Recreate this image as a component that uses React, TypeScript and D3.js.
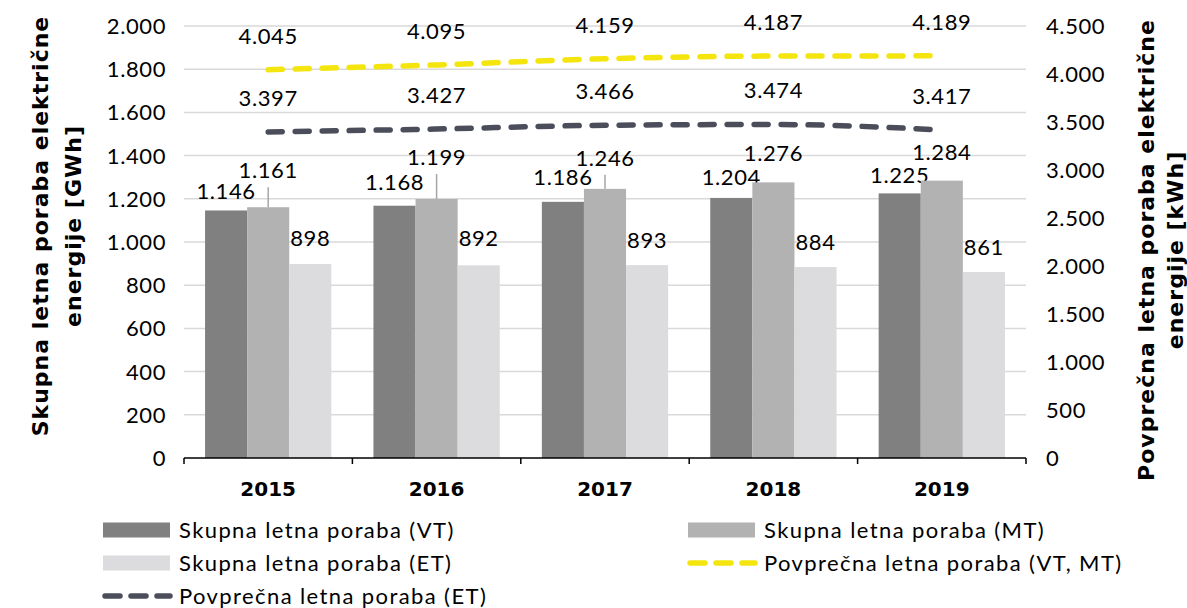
import { useEffect, useRef } from "react";
import * as d3 from "d3";

const years = ["2015", "2016", "2017", "2018", "2019"];
const totalVT = [1146, 1168, 1186, 1204, 1225];
const totalMT = [1161, 1199, 1246, 1276, 1284];
const totalET = [898, 892, 893, 884, 861];
const avgVTMT = [4045, 4095, 4159, 4187, 4189];
const avgET = [3397, 3427, 3466, 3474, 3417];
const leftTicks = [0, 200, 400, 600, 800, 1000, 1200, 1400, 1600, 1800, 2000];
const rightTicks = [0, 500, 1000, 1500, 2000, 2500, 3000, 3500, 4000, 4500];

// how far (px) the hand-placed bar labels sit above their bar
const liftVT = [19, 24, 25, 21, 18];
const liftMT = [37, 42, 31, 29, 29];
const liftET = [26, 27, 25, 25, 25];

const W = 1187;
const H = 608;
const FONT = "Lato, 'Open Sans', sans-serif";
const BOLD_FONT = "'DejaVu Sans', Lato, sans-serif";
const barColors = { VT: "#808080", MT: "#b2b2b2", ET: "#dcdcde" };
const lineColors = { VTMT: "#f5e50f", ET: "#4b4d5a" };

const fmt = d3.formatLocale({
  decimal: ",",
  thousands: ".",
  grouping: [3],
  currency: ["", " €"],
}).format(",d");

const App = () => {
  const ref = useRef<SVGSVGElement>(null);

  useEffect(() => {
    if (!ref.current) return;
    const svg = d3.select(ref.current);
    svg.selectAll("*").remove();

    const left = 184;
    const right = 1026;
    const top = 26;
    const bottom = 458;

    const x = d3.scaleBand().domain(years).range([left, right]);
    const sub = d3
      .scaleBand()
      .domain(["VT", "MT", "ET"])
      .range([0, x.bandwidth()])
      .paddingOuter(0.5);
    const yL = d3.scaleLinear().domain([0, 2000]).range([bottom, top]);
    const yR = d3.scaleLinear().domain([0, 4500]).range([bottom, top]);

    const numText = (sel: any) =>
      sel
        .attr("dy", "0.36em")
        .style("font-family", FONT)
        .style("font-size", "22px")
        .style("letter-spacing", "0.6px")
        .attr("fill", "#000");

    // gridlines
    svg
      .append("g")
      .selectAll("line")
      .data(leftTicks.filter((t) => t > 0))
      .enter()
      .append("line")
      .attr("x1", left)
      .attr("x2", right)
      .attr("y1", (d) => yL(d))
      .attr("y2", (d) => yL(d))
      .attr("stroke", "#d9d9d9")
      .attr("stroke-width", 1.5);

    // left tick labels
    svg
      .append("g")
      .selectAll("text")
      .data(leftTicks)
      .enter()
      .append("text")
      .attr("x", 166)
      .attr("y", (d) => yL(d))
      .attr("text-anchor", "end")
      .call(numText)
      .text((d) => fmt(d));

    // right tick labels
    svg
      .append("g")
      .selectAll("text")
      .data(rightTicks)
      .enter()
      .append("text")
      .attr("x", 1046)
      .attr("y", (d) => yR(d))
      .attr("text-anchor", "start")
      .call(numText)
      .text((d) => fmt(d));

    // bars
    const series = [
      { key: "VT", values: totalVT, lift: liftVT },
      { key: "MT", values: totalMT, lift: liftMT },
      { key: "ET", values: totalET, lift: liftET },
    ];
    series.forEach((s) => {
      const g = svg.append("g");
      const cx = (i: number) =>
        (x(years[i]) as number) + (sub(s.key) as number) + sub.bandwidth() / 2;
      g.selectAll("rect")
        .data(s.values)
        .enter()
        .append("rect")
        .attr("x", (d, i) => (x(years[i]) as number) + (sub(s.key) as number))
        .attr("y", (d) => yL(d))
        .attr("width", sub.bandwidth())
        .attr("height", (d) => bottom - yL(d))
        .attr("fill", barColors[s.key as keyof typeof barColors]);

      // leader lines for labels pulled far from the bar
      g.selectAll("line")
        .data(s.values.map((v, i) => ({ v, i })).filter((d) => s.lift[d.i] > 30))
        .enter()
        .append("line")
        .attr("x1", (d) => cx(d.i))
        .attr("x2", (d) => cx(d.i))
        .attr("y1", (d) => yL(d.v) - s.lift[d.i] + 17)
        .attr("y2", (d) => yL(d.v))
        .attr("stroke", "#a6a6a6")
        .attr("stroke-width", 1.5);

      g.selectAll("text")
        .data(s.values)
        .enter()
        .append("text")
        .attr("x", (d, i) => cx(i))
        .attr("y", (d, i) => yL(d) - s.lift[i])
        .attr("text-anchor", "middle")
        .call(numText)
        .text((d) => fmt(d));
    });

    // x axis
    svg
      .append("line")
      .attr("x1", left)
      .attr("x2", right)
      .attr("y1", bottom)
      .attr("y2", bottom)
      .attr("stroke", "#000")
      .attr("stroke-width", 1.5);
    const bounds = years.map((y) => x(y) as number).concat([right]);
    svg
      .append("g")
      .selectAll("line")
      .data(bounds)
      .enter()
      .append("line")
      .attr("x1", (d) => d)
      .attr("x2", (d) => d)
      .attr("y1", bottom)
      .attr("y2", bottom + 6)
      .attr("stroke", "#000")
      .attr("stroke-width", 1.5);
    svg
      .append("g")
      .selectAll("text")
      .data(years)
      .enter()
      .append("text")
      .attr("x", (d) => (x(d) as number) + x.bandwidth() / 2)
      .attr("y", 489)
      .attr("dy", "0.36em")
      .attr("text-anchor", "middle")
      .style("font-family", BOLD_FONT)
      .style("font-size", "20px")
      .style("font-weight", "bold")
      .text((d) => d);

    // lines (right axis)
    const lineGen = d3
      .line<number>()
      .x((d, i) => (x(years[i]) as number) + x.bandwidth() / 2)
      .y((d) => yR(d))
      .curve(d3.curveMonotoneX);
    const lines = [
      { values: avgVTMT, color: lineColors.VTMT },
      { values: avgET, color: lineColors.ET },
    ];
    lines.forEach((l) => {
      svg
        .append("path")
        .attr("d", lineGen(l.values))
        .attr("fill", "none")
        .attr("stroke", l.color)
        .attr("stroke-width", 5.5)
        .attr("stroke-linecap", "round")
        .attr("stroke-dasharray", "14 13");
      svg
        .append("g")
        .selectAll("text")
        .data(l.values)
        .enter()
        .append("text")
        .attr("x", (d, i) => (x(years[i]) as number) + x.bandwidth() / 2)
        .attr("y", (d) => yR(d) - 34)
        .attr("text-anchor", "middle")
        .call(numText)
        .text((d) => fmt(d));
    });

    // axis titles
    const titleL = svg
      .append("g")
      .attr("transform", "translate(40,226) rotate(-90)")
      .style("font-family", BOLD_FONT)
      .style("font-size", "22px")
      .style("font-weight", "bold")
      .style("letter-spacing", "1px")
      .attr("text-anchor", "middle");
    titleL.append("text").attr("dy", "0.36em").text("Skupna letna poraba električne");
    titleL.append("text").attr("y", 33).attr("dy", "0.36em").text("energije [GWh]");

    const titleR = svg
      .append("g")
      .attr("transform", "translate(1146,250) rotate(-90)")
      .style("font-family", BOLD_FONT)
      .style("font-size", "22px")
      .style("font-weight", "bold")
      .style("letter-spacing", "1px")
      .attr("text-anchor", "middle");
    titleR.append("text").attr("dy", "0.36em").text("Povprečna letna poraba električne");
    titleR.append("text").attr("y", 29).attr("dy", "0.36em").text("energije [kWh]");

    // legend
    const legend = [
      { label: "Skupna letna poraba (VT)", type: "bar", color: barColors.VT, x: 103, y: 530 },
      { label: "Skupna letna poraba (MT)", type: "bar", color: barColors.MT, x: 688, y: 530 },
      { label: "Skupna letna poraba (ET)", type: "bar", color: barColors.ET, x: 103, y: 563 },
      { label: "Povprečna letna poraba (VT, MT)", type: "line", color: lineColors.VTMT, x: 688, y: 563 },
      { label: "Povprečna letna poraba (ET)", type: "line", color: lineColors.ET, x: 103, y: 596 },
    ];
    const items = svg
      .append("g")
      .selectAll("g")
      .data(legend)
      .enter()
      .append("g")
      .attr("transform", (d) => `translate(${d.x},${d.y})`);
    items
      .filter((d) => d.type === "bar")
      .append("rect")
      .attr("x", 0)
      .attr("y", -7.5)
      .attr("width", 67)
      .attr("height", 15)
      .attr("fill", (d) => d.color);
    items
      .filter((d) => d.type === "line")
      .append("line")
      .attr("x1", 2)
      .attr("x2", 67)
      .attr("y1", 0)
      .attr("y2", 0)
      .attr("stroke", (d) => d.color)
      .attr("stroke-width", 5.5)
      .attr("stroke-linecap", "round")
      .attr("stroke-dasharray", "15 11");
    items
      .append("text")
      .attr("x", 76)
      .attr("dy", "0.36em")
      .style("font-family", FONT)
      .style("font-size", "22px")
      .style("letter-spacing", "1.4px")
      .text((d) => d.label);
  }, []);

  return (
    <svg
      ref={ref}
      width={W}
      height={H}
      style={{ display: "block", position: "absolute", left: 0, top: 0, background: "#fff" }}
    />
  );
};

export default App;
